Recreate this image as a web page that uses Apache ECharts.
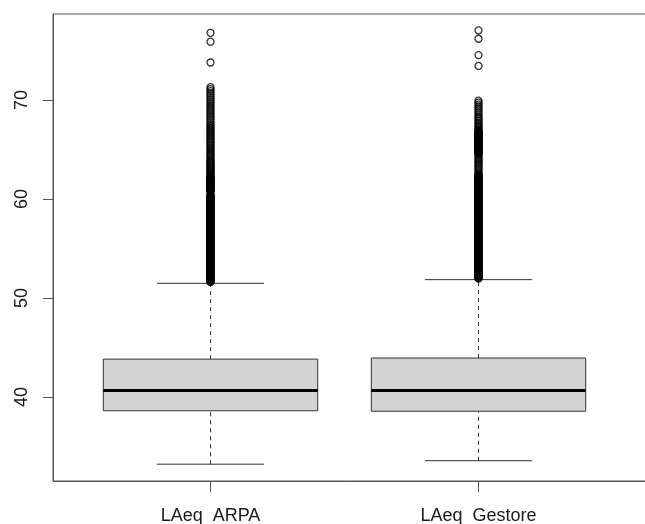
<!DOCTYPE html>
<html>
<head>
<meta charset="utf-8">
<script src="https://cdn.jsdelivr.net/npm/echarts@6/dist/echarts.min.js"></script>
<style>
html,body{margin:0;padding:0;background:#fff;}
#chart{width:645px;height:524px;}
</style>
</head>
<body>
<div id="chart"></div>
<script>
// ---- data ----
const categories = ['LAeq_ARPA', 'LAeq_Gestore'];
const categoryPositions = [1, 2];
const yTicks = [40, 50, 60, 70];
// [min whisker, Q1, median, Q3, max whisker]
const boxARPA = [33.2, 38.6, 40.64, 43.82, 51.48];
const boxGestore = [33.55, 38.55, 40.64, 43.93, 51.85];
const outliersARPA = [
  76.8, 75.9, 73.8,
  71.3, 71.1, 70.9, 70.7, 70.5, 70.3, 70.1, 69.9, 69.7, 69.5, 69.3, 69.1, 68.9, 68.7, 68.5, 68.3, 68.1, 67.9, 67.7, 67.5,
  67.35, 67.2, 67.05, 66.9, 66.75, 66.6, 66.45, 66.3, 66.15, 66.0, 65.85, 65.7, 65.55, 65.4, 65.25, 65.1, 64.95, 64.8, 64.65, 64.5, 64.35, 64.2, 64.05,
  63.9, 63.8, 63.7, 63.6, 63.5, 63.4, 63.3, 63.2, 63.1, 63.0, 62.9, 62.8, 62.7, 62.6, 62.5, 62.4,
  62.30, 62.25, 62.20, 62.15, 62.10, 62.05, 62.00, 61.95, 61.90, 61.85, 61.80, 61.75, 61.70, 61.65, 61.60, 61.55, 61.50, 61.45, 61.40, 61.35,
  61.30, 61.25, 61.20, 61.15, 61.10, 61.05, 61.00, 60.95, 60.90, 60.85, 60.80, 60.75, 60.70, 60.40, 60.35, 60.30, 60.25, 60.20, 60.15, 60.10, 60.05, 60.00,
  59.95, 59.90, 59.85, 59.80, 59.75, 59.70, 59.65, 59.60, 59.55, 59.50, 59.45, 59.40, 59.35, 59.30, 59.25, 59.20, 59.15, 59.10, 59.05, 59.00,
  58.95, 58.90, 58.85, 58.80, 58.75, 58.70, 58.65, 58.60, 58.55, 58.50, 58.45, 58.40, 58.35, 58.30, 58.25, 58.20, 58.15, 58.10, 58.05, 58.00,
  57.95, 57.90, 57.85, 57.80, 57.75, 57.70, 57.65, 57.60, 57.55, 57.50, 57.45, 57.40, 57.35, 57.30, 57.25, 57.20, 57.15, 57.10, 57.05, 57.00,
  56.95, 56.90, 56.85, 56.80, 56.75, 56.70, 56.65, 56.60, 56.55, 56.50, 56.45, 56.40, 56.35, 56.30, 56.25, 56.20, 56.15, 56.10, 56.05, 56.00,
  55.95, 55.90, 55.85, 55.80, 55.75, 55.70, 55.65, 55.60, 55.55, 55.50, 55.45, 55.40, 55.35, 55.30, 55.25, 55.20, 55.15, 55.10, 55.05, 55.00,
  54.95, 54.90, 54.85, 54.80, 54.75, 54.70, 54.65, 54.60, 54.55, 54.50, 54.45, 54.40, 54.35, 54.30, 54.25, 54.20, 54.15, 54.10, 54.05, 54.00,
  53.95, 53.90, 53.85, 53.80, 53.75, 53.70, 53.65, 53.60, 53.55, 53.50, 53.45, 53.40, 53.35, 53.30, 53.25, 53.20, 53.15, 53.10, 53.05, 53.00,
  52.95, 52.90, 52.85, 52.80, 52.75, 52.70, 52.65, 52.60, 52.55, 52.50, 52.45, 52.40, 52.35, 52.30, 52.25, 52.20, 52.15, 52.10, 52.05, 52.00,
  51.95, 51.90, 51.85, 51.80, 51.75, 51.70, 51.65, 51.60
];
const outliersGestore = [
  77.05, 76.2, 74.55, 73.45,
  69.95, 69.75, 69.55, 69.35, 69.15, 68.95, 68.75, 68.55, 68.35,
  68.2, 68.05, 67.9, 67.75, 67.6, 67.45, 67.3, 67.15, 67.0,
  66.90, 66.85, 66.80, 66.75, 66.70, 66.65, 66.60, 66.55, 66.50, 66.45, 66.40, 66.35, 66.30, 66.25, 66.20, 66.15, 66.10, 66.05, 66.00,
  65.95, 65.90, 65.85, 65.80, 65.75, 65.70, 65.65, 65.60, 65.55, 65.50, 65.45, 65.40, 65.35, 65.30, 65.25, 65.20, 65.15, 65.10, 65.05, 65.00,
  64.95, 64.90, 64.85, 64.80, 64.75, 64.70, 64.65, 64.60,
  64.45, 64.3, 64.15, 64.0, 63.85, 63.7, 63.55, 63.4, 63.25, 63.1, 62.95, 62.8, 62.65, 62.5,
  62.40, 62.35, 62.30, 62.25, 62.20, 62.15, 62.10, 62.05, 62.00, 61.95, 61.90, 61.85, 61.80, 61.75, 61.70, 61.65, 61.60, 61.55, 61.50, 61.45,
  61.40, 61.35, 61.30, 61.25, 61.20, 61.15, 61.10, 61.05, 61.00, 60.95, 60.90, 60.85, 60.80, 60.75, 60.70, 60.65, 60.60, 60.55, 60.50, 60.45,
  60.40, 60.35, 60.30, 60.25, 60.20, 60.15, 60.10, 60.05, 60.00,
  59.95, 59.90, 59.85, 59.80, 59.75, 59.70, 59.65, 59.60, 59.55, 59.50, 59.45, 59.40, 59.35, 59.30, 59.25, 59.20, 59.15, 59.10, 59.05, 59.00,
  58.95, 58.90, 58.85, 58.80, 58.75, 58.70, 58.65, 58.60, 58.55, 58.50, 58.45, 58.40, 58.35, 58.30, 58.25, 58.20, 58.15, 58.10, 58.05, 58.00,
  57.95, 57.90, 57.85, 57.80, 57.75, 57.70, 57.65, 57.60, 57.55, 57.50, 57.45, 57.40, 57.35, 57.30, 57.25, 57.20, 57.15, 57.10, 57.05, 57.00,
  56.95, 56.90, 56.85, 56.80, 56.75, 56.70, 56.65, 56.60, 56.55, 56.50, 56.45, 56.40, 56.35, 56.30, 56.25, 56.20, 56.15, 56.10, 56.05, 56.00,
  55.95, 55.90, 55.85, 55.80, 55.75, 55.70, 55.65, 55.60, 55.55, 55.50, 55.45, 55.40, 55.35, 55.30, 55.25, 55.20, 55.15, 55.10, 55.05, 55.00,
  54.95, 54.90, 54.85, 54.80, 54.75, 54.70, 54.65, 54.60, 54.55, 54.50, 54.45, 54.40, 54.35, 54.30, 54.25, 54.20, 54.15, 54.10, 54.05, 54.00,
  53.95, 53.90, 53.85, 53.80, 53.75, 53.70, 53.65, 53.60, 53.55, 53.50, 53.45, 53.40, 53.35, 53.30, 53.25, 53.20, 53.15, 53.10, 53.05, 53.00,
  52.95, 52.90, 52.85, 52.80, 52.75, 52.70, 52.65, 52.60, 52.55, 52.50, 52.45, 52.40, 52.35, 52.30, 52.25, 52.20, 52.15, 52.10, 52.05, 52.00,
  51.95
];

// ---- build ----
const boxes = [boxARPA, boxGestore];
const boxData = boxes.map((b, i) => [categoryPositions[i]].concat(b));
const outlierData = [];
outliersARPA.forEach(v => outlierData.push([categoryPositions[0], v]));
outliersGestore.forEach(v => outlierData.push([categoryPositions[1], v]));

const BOX_HALF = 0.4;   // R boxwex 0.8
const CAP_HALF = 0.2;   // staplewex 0.5

const chart = echarts.init(document.getElementById('chart'), null, {renderer: 'canvas'});
const textColor = '#1a1a1a';
const axisColor = '#555';

chart.setOption({
  animation: false,
  backgroundColor: '#fff',
  grid: {left: 53, right: -2, top: 14, bottom: 43, containLabel: false, outerBoundsMode: 'none', show: true, borderColor: axisColor, borderWidth: 1, backgroundColor: 'transparent'},
  xAxis: {
    type: 'value',
    min: 0.4123,
    max: 2.6287,
    splitLine: {show: false},
    axisLine: {show: true, onZero: false, lineStyle: {color: axisColor, width: 1}},
    axisTick: {show: true, customValues: categoryPositions, length: 11, lineStyle: {color: axisColor}},
    axisLabel: {
      customValues: categoryPositions,
      margin: 26,
      fontSize: 18,
      fontFamily: 'Liberation Sans, Arial, sans-serif',
      color: textColor,
      formatter: function (v) {
        const idx = categoryPositions.indexOf(Math.round(v));
        return idx >= 0 ? categories[idx] : '';
      }
    }
  },
  yAxis: {
    type: 'value',
    min: 31.5,
    max: 78.7,
    splitLine: {show: false},
    axisLine: {show: true, onZero: false, lineStyle: {color: axisColor, width: 1}},
    axisTick: {show: true, customValues: yTicks, length: 10, lineStyle: {color: axisColor}},
    axisLabel: {
      customValues: yTicks,
      rotate: 90,
      margin: 22,
      fontSize: 18,
      fontFamily: 'Liberation Sans, Arial, sans-serif',
      color: textColor
    }
  },
  series: [
    {
      type: 'custom',
      data: boxData,
      encode: {x: 0, y: [1, 2, 3, 4, 5]},
      renderItem: function (params, api) {
        const x = api.value(0);
        const vMin = api.value(1), q1 = api.value(2), med = api.value(3), q3 = api.value(4), vMax = api.value(5);
        const pMin = api.coord([x, vMin]);
        const pQ1 = api.coord([x, q1]);
        const pMed = api.coord([x, med]);
        const pQ3 = api.coord([x, q3]);
        const pMax = api.coord([x, vMax]);
        const xl = api.coord([x - BOX_HALF, med])[0];
        const xr = api.coord([x + BOX_HALF, med])[0];
        const cl = api.coord([x - CAP_HALF, med])[0];
        const cr = api.coord([x + CAP_HALF, med])[0];
        const cx = pMed[0];
        const dashStyle = {stroke: '#333', lineWidth: 1, lineDash: [4, 4], fill: null};
        const solid = {stroke: '#333', lineWidth: 1, fill: null};
        return {
          type: 'group',
          children: [
            {type: 'line', shape: {x1: cx, y1: pMin[1], x2: cx, y2: pQ1[1]}, style: dashStyle},
            {type: 'line', shape: {x1: cx, y1: pQ3[1], x2: cx, y2: pMax[1]}, style: dashStyle},
            {type: 'line', shape: {x1: cl, y1: pMin[1], x2: cr, y2: pMin[1]}, style: solid},
            {type: 'line', shape: {x1: cl, y1: pMax[1], x2: cr, y2: pMax[1]}, style: solid},
            {type: 'rect', shape: {x: xl, y: pQ3[1], width: xr - xl, height: pQ1[1] - pQ3[1]}, style: {fill: '#D3D3D3', stroke: '#333', lineWidth: 1}},
            {type: 'line', shape: {x1: xl, y1: pMed[1], x2: xr, y2: pMed[1]}, style: {stroke: '#000', lineWidth: 3}}
          ]
        };
      }
    },
    {
      type: 'scatter',
      data: outlierData,
      symbol: 'circle',
      symbolSize: 7,
      itemStyle: {color: 'transparent', borderColor: '#000', borderWidth: 1.3},
      emphasis: {disabled: true},
      silent: true
    }
  ]
});
</script>
</body>
</html>
